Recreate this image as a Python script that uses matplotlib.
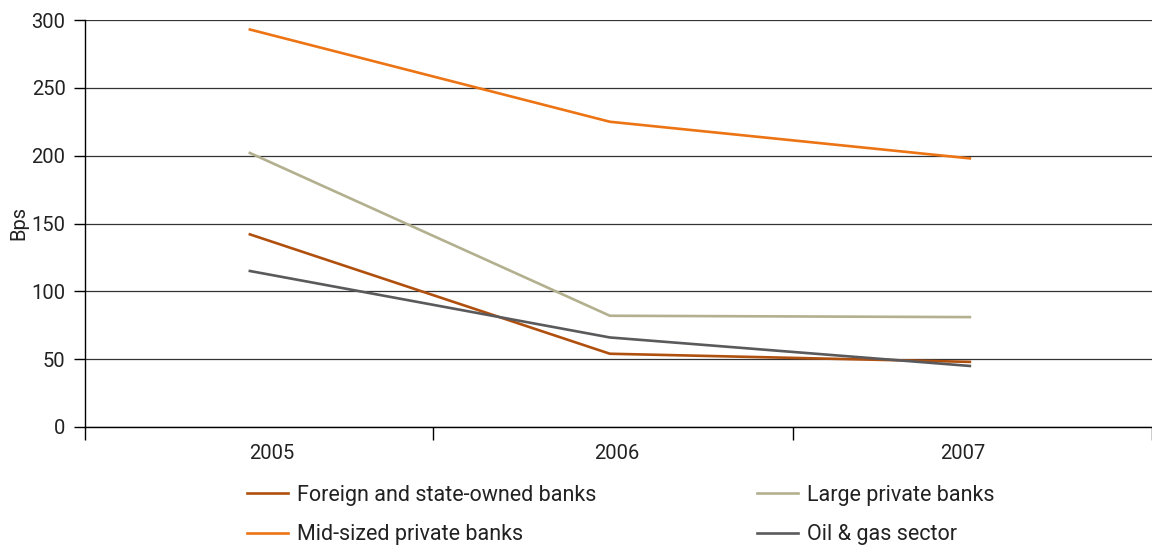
import matplotlib
matplotlib.use("Agg")
import matplotlib.pyplot as plt
from matplotlib.ticker import FixedLocator

plt.rcParams['font.family'] = ['Roboto', 'DejaVu Sans']

years = ["2005", "2006", "2007"]
foreign_state = [142, 54, 48]
large_private = [202, 82, 81]
mid_private = [293, 225, 198]
oil_gas = [115, 66, 45]

COL_FOREIGN = "#B0500F"
COL_MID = "#EC7414"
COL_LARGE = "#B2B08E"
COL_OIL = "#5A5A5C"

fig = plt.figure(figsize=(11.52, 5.48), dpi=100)
ax = fig.add_axes([85 / 1152, 1 - 427 / 548, 1 - 85 / 1152, 407 / 548])

x = list(range(len(years)))
lw = 1.9
l_foreign, = ax.plot(x, foreign_state, color=COL_FOREIGN, lw=lw, label="Foreign and state-owned banks")
l_large, = ax.plot(x, large_private, color=COL_LARGE, lw=lw, label="Large private banks")
l_mid, = ax.plot(x, mid_private, color=COL_MID, lw=lw, label="Mid-sized private banks")
l_oil, = ax.plot(x, oil_gas, color=COL_OIL, lw=lw, label="Oil & gas sector")

ax.set_ylim(0, 300)
ax.set_xlim(-0.458, 2.506)
ax.set_yticks(range(0, 301, 50))
ax.yaxis.grid(True, color="#333333", lw=0.9)
ax.set_axisbelow(True)

# year labels sit centred in their slots, slightly off the data points
ax.set_xticks([0.06, 1.02, 1.98])
ax.set_xticklabels(years)
ax.tick_params(axis="x", which="major", length=0, pad=12, labelsize=14.5, colors="#222222")
ax.xaxis.set_minor_locator(FixedLocator([-0.458, 0.508, 1.508, 2.506]))
ax.tick_params(axis="x", which="minor", length=9, width=1, color="black", direction="out")
ax.tick_params(axis="y", length=8, width=1, color="black", direction="out", pad=6,
               labelsize=14.5, labelcolor="#222222")

for s in ["top", "right"]:
    ax.spines[s].set_visible(False)
ax.spines["left"].set_color("black")
ax.spines["bottom"].set_color("black")
ax.spines["left"].set_linewidth(1)
ax.spines["bottom"].set_linewidth(1)

ax.set_ylabel("Bps", fontsize=14.5, color="#222222", labelpad=2)

leg_kw = dict(loc="upper left", frameon=False, fontsize=15.5, handlelength=1.9,
              handletextpad=0.42, labelspacing=0.85, borderpad=0, borderaxespad=0,
              labelcolor="#222222")
fig.legend(handles=[l_foreign, l_mid], bbox_to_anchor=(247 / 1152, 1 - 485 / 548), **leg_kw)
fig.legend(handles=[l_large, l_oil], bbox_to_anchor=(757 / 1152, 1 - 485 / 548), **leg_kw)

fig.savefig("out.png", dpi=100)
